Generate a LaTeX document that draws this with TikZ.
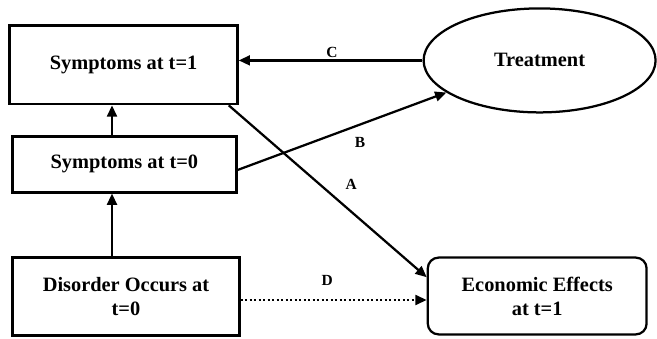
\documentclass[tikz,border=0pt]{standalone}
\usepackage{fontspec}
\setmainfont{Liberation Serif}
\usetikzlibrary{positioning,shapes.geometric,arrows.meta}

\begin{document}
\begin{tikzpicture}[
    font=\bfseries\fontsize{14.5}{17}\selectfont,
    box/.style={draw, line width=1.6pt, align=center, inner sep=0pt},
    link/.style={line width=1.6pt, -{Triangle[length=8pt,width=7pt]}},
    tag/.style={font=\bfseries\fontsize{11}{13}\selectfont, inner sep=0pt}
]
    \useasboundingbox (0,0) rectangle (16.425,8.45);

    % Boxes on the left
    \node[box, minimum width=5.7cm, minimum height=1.97cm] (sym1) at (3.09,6.83) {Symptoms at t=1};
    \node[box, minimum width=5.6cm, minimum height=1.4cm] (sym0) at (3.11,4.34) {Symptoms at t=0};
    \node[box, minimum width=5.68cm, minimum height=1.95cm] (dis) at (3.15,1.04) {Disorder Occurs at\\t=0};

    % Treatment and outcome
    \node[box, ellipse, minimum width=5.8cm, minimum height=2.6cm] (treat) at (13.49,6.94) {Treatment};
    \node[box, rounded corners=0.27cm, minimum width=5.47cm, minimum height=1.92cm] (econ) at (13.43,1.05) {Economic Effects\\at t=1};

    % Vertical chain
    \coordinate (spine) at (2.8,0);
    \draw[link] (sym0.north -| spine) -- (sym1.south -| spine);
    \draw[link] (dis.north -| spine) -- (sym0.south -| spine);

    % Paths A to D
    \draw[link] (treat.west) -- (treat.west -| sym1.east);
    \draw[link] ([yshift=-0.14cm]sym0.east) -- (treat.199);
    \draw[link] ([xshift=-0.25cm]sym1.south east) -- ([yshift=0.47cm]econ.west);
    \draw[link, dash pattern=on 1.6pt off 1.6pt] ([yshift=-0.09cm]dis.east) -- ([yshift=-0.09cm]dis.east -| econ.west);

    % Path labels
    \node[tag] (labC) at (8.3,7.15) {C};
    \node[tag] (labB) at (9.0,4.9) {B};
    \node[tag] (labA) at (8.78,3.83) {A};
    \node[tag] (labD) at (8.18,1.45) {D};

\end{tikzpicture}
\end{document}
